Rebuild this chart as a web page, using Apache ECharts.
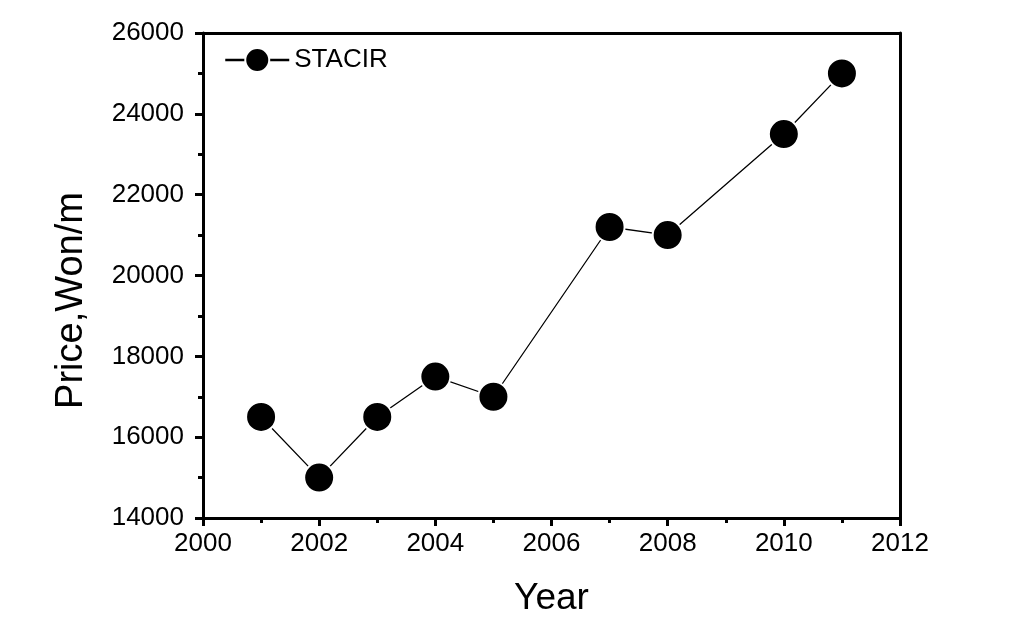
<!DOCTYPE html>
<html><head><meta charset="utf-8">
<script src="https://cdn.jsdelivr.net/npm/echarts@6/dist/echarts.min.js"></script>
<style>html,body{margin:0;padding:0;background:#fff}#c{width:1033px;height:629px}</style>
</head><body><div id="c"></div>
<script>
const years = [2001, 2002, 2003, 2004, 2005, 2007, 2008, 2010, 2011];
const prices = [16500, 15000, 16500, 17500, 17000, 21200, 21000, 23500, 25000];
const seriesName = 'STACIR';
const xTicks = [2000, 2012, 2];
const yTicks = [14000, 26000, 2000];

const chart = echarts.init(document.getElementById('c'));
const font = 'Liberation Sans, Arial, sans-serif';
const axisLine = {show: true, lineStyle: {color: '#000', width: 3}};
chart.setOption({
  animation: false,
  backgroundColor: '#fff',
  grid: {left: 203, right: 133, top: 33, bottom: 111},
  legend: {
    left: 219, top: 42, itemWidth: 64, itemHeight: 30, itemGap: 8,
    lineStyle: {width: 2.5},
    textStyle: {fontFamily: font, fontSize: 26, color: '#000'},
    data: [seriesName]
  },
  xAxis: [{
    type: 'value', min: xTicks[0], max: xTicks[1], interval: xTicks[2],
    name: 'Year', nameLocation: 'middle', nameGap: 62,
    nameTextStyle: {fontFamily: font, fontSize: 37, color: '#000'},
    axisLine: axisLine,
    axisTick: {show: true, inside: false, length: 8, lineStyle: {width: 3, color: '#000'}},
    minorTick: {show: true, splitNumber: 2, length: 5, lineStyle: {width: 3, color: '#000'}},
    axisLabel: {fontFamily: font, fontSize: 26, color: '#000', margin: 13, formatter: v => String(v)},
    splitLine: {show: false}
  }, {
    type: 'value', position: 'top', min: xTicks[0], max: xTicks[1],
    axisLine: axisLine, axisTick: {show: false}, axisLabel: {show: false}, splitLine: {show: false}
  }],
  yAxis: [{
    type: 'value', min: yTicks[0], max: yTicks[1], interval: yTicks[2],
    name: 'Price,Won/m', nameLocation: 'middle', nameGap: 112,
    nameTextStyle: {fontFamily: font, fontSize: 38, color: '#000', padding: [0, 50, 0, 0]},
    axisLine: axisLine,
    axisTick: {show: true, inside: false, length: 8, lineStyle: {width: 3, color: '#000'}},
    minorTick: {show: true, splitNumber: 2, length: 5, lineStyle: {width: 3, color: '#000'}},
    axisLabel: {fontFamily: font, fontSize: 26, color: '#000', margin: 19, formatter: v => String(v)},
    splitLine: {show: false}
  }, {
    type: 'value', position: 'right', min: yTicks[0], max: yTicks[1],
    axisLine: axisLine, axisTick: {show: false}, axisLabel: {show: false}, splitLine: {show: false}
  }],
  series: [{
    name: seriesName, type: 'line',
    data: years.map((y, i) => [y, prices[i]]),
    symbol: 'circle', symbolSize: 30,
    itemStyle: {color: '#000', borderColor: '#fff', borderWidth: 2},
    lineStyle: {color: '#000', width: 1.3}
  }]
});
</script></body></html>
